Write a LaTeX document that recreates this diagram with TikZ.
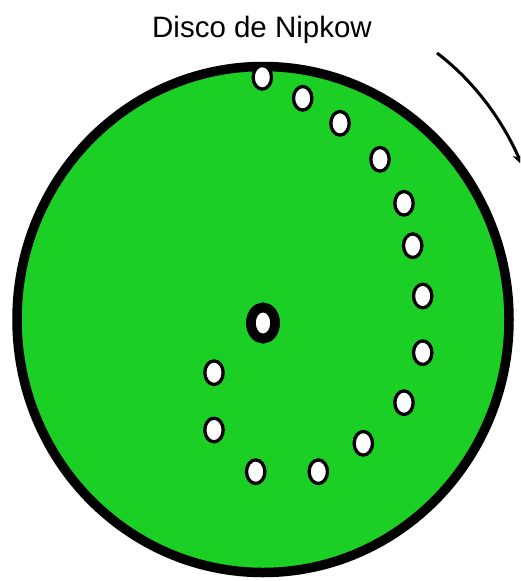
\documentclass[tikz,border=0pt]{standalone}
\usepackage{fontspec}
\setmainfont{Liberation Sans}
\usetikzlibrary{shapes.geometric,arrows.meta}
\definecolor{discgreen}{RGB}{28,207,36}
\begin{document}
\begin{tikzpicture}[x=1pt,y=-1pt,
  hole/.style={ellipse,draw=black,fill=white,line width=3.3pt,minimum width=18.4pt,minimum height=23.6pt,inner sep=0pt,outer sep=0pt},
  disc/.style={ellipse,draw=black,fill=discgreen,line width=9.5pt,minimum width=492pt,minimum height=506pt,inner sep=0pt,outer sep=0pt},
  hub/.style={ellipse,draw=black,fill=white,line width=9.8pt,minimum width=24.2pt,minimum height=31.2pt,inner sep=0pt,outer sep=0pt},
  title/.style={font=\fontsize{29.5pt}{32pt}\selectfont,anchor=base,inner sep=0pt},
  rot/.style={line width=3pt,-{Stealth[length=12pt,width=10pt]}}]
\useasboundingbox (0,0) rectangle (520,581);
\clip (0,0) rectangle (520,581);
\node[title] (t) at (262,37) {Disco de Nipkow};
\node[disc] (d) at (263,319.5) {};
\node[hub] (c) at (263,323) {};
\node[hole] (h1) at (262.3,77.3) {};
\node[hole] (h2) at (302.7,98.3) {};
\node[hole] (h3) at (340,123.3) {};
\node[hole] (h4) at (380,159.3) {};
\node[hole] (h5) at (404,203.3) {};
\node[hole] (h6) at (412.7,245.7) {};
\node[hole] (h7) at (422.7,296) {};
\node[hole] (h8) at (422.7,352.7) {};
\node[hole] (h9) at (404,402.7) {};
\node[hole] (h10) at (363.3,443.3) {};
\node[hole] (h11) at (318.3,471.7) {};
\node[hole] (h12) at (255.7,471.7) {};
\node[hole] (h13) at (214,430) {};
\node[hole] (h14) at (214,372.7) {};
\coordinate (as) at (437,53);
\coordinate (ae) at (522,165);
\draw[rot] (as) .. controls (470,78) and (500,115) .. (ae);
\end{tikzpicture}
\end{document}
